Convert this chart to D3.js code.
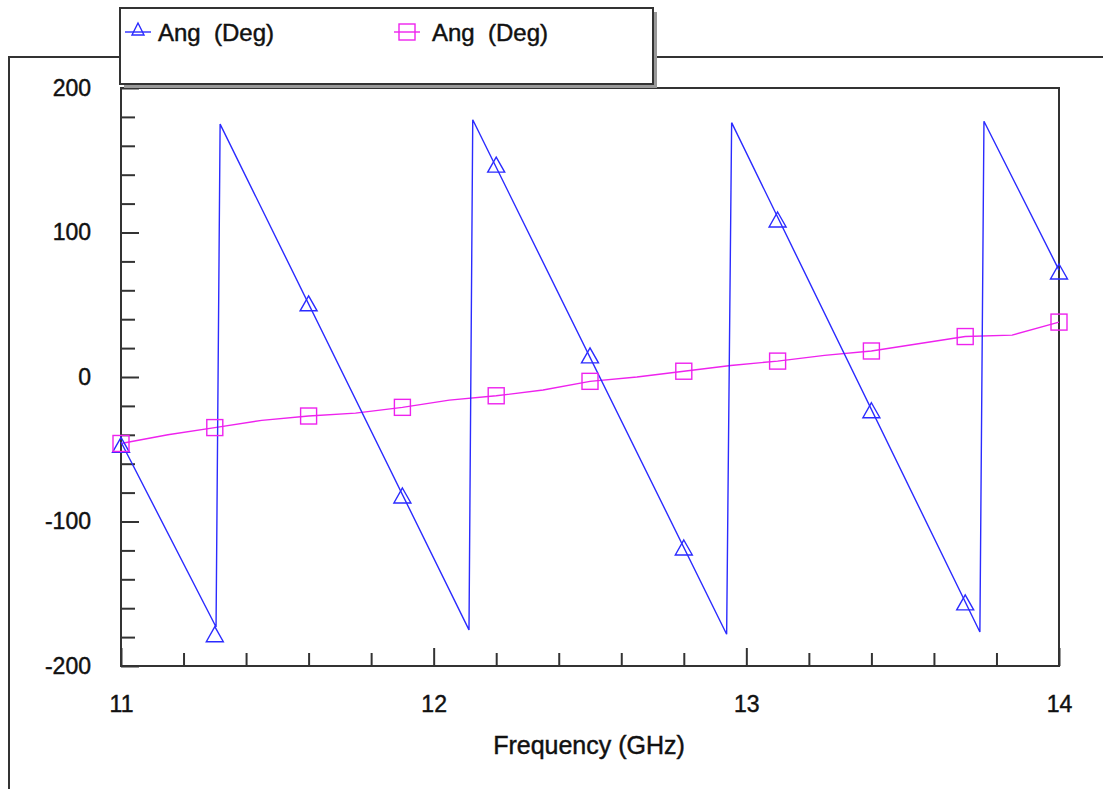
<!DOCTYPE html>
<html>
<head>
<meta charset="utf-8">
<script src="https://cdn.jsdelivr.net/npm/d3@7"></script>
<style>
  body { margin: 0; background: #fff; }
  svg text { font-family: "Liberation Sans", Arial, sans-serif; fill: #111; stroke: #111; stroke-width: 0.45px; }
</style>
</head>
<body>
<svg id="chart"></svg>
<script>
const width = 1103;
const height = 789;

// blue trace: sawtooth corners
const blueFreq = [11.0, 11.304, 11.317, 12.113, 12.125, 12.937, 12.953, 13.747, 13.760, 14.0];
const blueAng  = [-45, -173, 175, -175, 178, -178, 176, -176.5, 177, 74];

// magenta trace
const pinkFreq = [11.0, 11.15, 11.3, 11.45, 11.6, 11.75, 11.9, 12.05, 12.2, 12.35, 12.5, 12.65, 12.8, 12.95, 13.1, 13.25, 13.4, 13.55, 13.7, 13.85, 14.0];
const pinkAng  = [-46, -40, -35, -30, -27, -25, -21, -16, -13, -9, -3, 0, 4, 8, 11, 15, 18, 23, 28, 29, 38];

// marker positions
const markFreq    = [11.0, 11.3, 11.6, 11.9, 12.2, 12.5, 12.8, 13.1, 13.4, 13.7, 14.0];
const blueMarkAng = [-47, -178, 51, -82, 147, 15, -118, 109, -23, -156, 73];
const pinkMarkAng = [-46, -35, -27, -21, -13, -3, 4, 11, 18, 28, 38];

const xTickLabels = [11, 12, 13, 14];
const yTickLabels = [-200, -100, 0, 100, 200];
const legendLabels = ["Ang  (Deg)", "Ang  (Deg)"];

const blueColor = "#2b2bff";
const pinkColor = "#ee22ee";
const axisColor = "#333";

const plot = {left: 121, right: 1059, top: 88, bottom: 666};

var svg = d3.select("#chart")
    .attr("width", width)
    .attr("height", height);

var x = d3.scaleLinear().domain([11, 14]).range([plot.left, plot.right]);
var y = d3.scaleLinear().domain([-200, 200]).range([plot.bottom, plot.top]);

// outer frame
svg.append("path")
    .attr("d", `M9,${height} L9,57 L${width},57`)
    .attr("fill", "none")
    .attr("stroke", axisColor)
    .attr("stroke-width", 2);

// plot frame
svg.append("rect")
    .attr("x", plot.left)
    .attr("y", plot.top)
    .attr("width", plot.right - plot.left)
    .attr("height", plot.bottom - plot.top)
    .attr("fill", "#fff")
    .attr("stroke", axisColor)
    .attr("stroke-width", 2);

// y ticks (inside)
var yTicks = svg.append("g")
    .attr("transform", `translate(${plot.left},0)`)
    .call(d3.axisRight(y).tickValues(d3.range(-200, 201, 20)).tickSize(14).tickFormat(""));
yTicks.select(".domain").remove();
yTicks.selectAll(".tick line")
    .attr("stroke", axisColor)
    .attr("stroke-width", 2)
    .attr("x2", d => d % 100 === 0 ? 18 : 14);

// y labels (plain hyphen for the minus sign, as in the original)
var yLab = svg.append("g")
    .attr("transform", `translate(${plot.left},0)`)
    .call(d3.axisLeft(y).tickValues(yTickLabels).tickSize(0).tickPadding(30).tickFormat(d => String(d)));
yLab.select(".domain").remove();
yLab.selectAll("text").attr("font-size", 23).attr("fill", "#111");

// x ticks (inside)
var xTicks = svg.append("g")
    .attr("transform", `translate(0,${plot.bottom})`)
    .call(d3.axisTop(x).tickValues(d3.range(0, 16).map(i => 11 + i * 0.2)).tickSize(13).tickFormat(""));
xTicks.select(".domain").remove();
xTicks.selectAll(".tick line")
    .attr("stroke", axisColor)
    .attr("stroke-width", 2)
    .attr("y2", (d, i) => i % 5 === 0 ? -18 : -13);

// x labels
var xLab = svg.append("g")
    .attr("transform", `translate(0,${plot.bottom})`)
    .call(d3.axisBottom(x).tickValues(xTickLabels).tickSize(0).tickPadding(30).tickFormat(d3.format("d")));
xLab.select(".domain").remove();
xLab.selectAll("text").attr("font-size", 23).attr("fill", "#111");

svg.append("text")
    .attr("x", 589)
    .attr("y", 754)
    .attr("text-anchor", "middle")
    .attr("font-size", 25)
    .text("Frequency (GHz)");

// traces
var line = d3.line().x(d => x(d[0])).y(d => y(d[1]));
svg.append("clipPath").attr("id", "clip")
    .append("rect")
    .attr("x", plot.left - 10).attr("y", plot.top)
    .attr("width", plot.right - plot.left + 20).attr("height", plot.bottom - plot.top);

var traces = svg.append("g").attr("clip-path", "url(#clip)");

traces.append("path")
    .datum(pinkFreq.map((f, i) => [f, pinkAng[i]]))
    .attr("d", line)
    .attr("fill", "none")
    .attr("stroke", pinkColor)
    .attr("stroke-width", 1.4);

traces.append("path")
    .datum(blueFreq.map((f, i) => [f, blueAng[i]]))
    .attr("d", line)
    .attr("fill", "none")
    .attr("stroke", blueColor)
    .attr("stroke-width", 1.4);

function trianglePath(cx, cy, w, h) {
    return `M${cx},${cy - h / 2} L${cx + w / 2},${cy + h / 2} L${cx - w / 2},${cy + h / 2} Z`;
}

traces.selectAll(".tri")
    .data(markFreq.map((f, i) => [f, blueMarkAng[i]]))
    .enter().append("path")
    .attr("class", "tri")
    .attr("d", d => trianglePath(x(d[0]), y(d[1]), 17, 15))
    .attr("fill", "none")
    .attr("stroke", blueColor)
    .attr("stroke-width", 1.4);

traces.selectAll(".sq")
    .data(markFreq.map((f, i) => [f, pinkMarkAng[i]]))
    .enter().append("rect")
    .attr("class", "sq")
    .attr("x", d => x(d[0]) - 8)
    .attr("y", d => y(d[1]) - 8)
    .attr("width", 16)
    .attr("height", 16)
    .attr("fill", "none")
    .attr("stroke", pinkColor)
    .attr("stroke-width", 1.4);

// legend
var legend = svg.append("g");
legend.append("rect")
    .attr("x", 124).attr("y", 12)
    .attr("width", 533).attr("height", 76)
    .attr("fill", "#999");
legend.append("rect")
    .attr("x", 120).attr("y", 8)
    .attr("width", 533).attr("height", 76)
    .attr("fill", "#fff")
    .attr("stroke", axisColor)
    .attr("stroke-width", 2);

const legendItems = [
    {x: 125, color: blueColor, marker: "tri", label: legendLabels[0], tx: 158},
    {x: 394, color: pinkColor, marker: "sq", label: legendLabels[1], tx: 432}
];

legendItems.forEach(it => {
    legend.append("line")
        .attr("x1", it.x).attr("x2", it.x + 26)
        .attr("y1", 32).attr("y2", 32)
        .attr("stroke", it.color)
        .attr("stroke-width", 1.4);
    if (it.marker === "tri") {
        legend.append("path")
            .attr("d", trianglePath(it.x + 13, 29, 12, 12))
            .attr("fill", "none")
            .attr("stroke", it.color)
            .attr("stroke-width", 1.4);
    } else {
        legend.append("rect")
            .attr("x", it.x + 5).attr("y", 24)
            .attr("width", 16).attr("height", 16)
            .attr("fill", "none")
            .attr("stroke", it.color)
            .attr("stroke-width", 1.4);
    }
    legend.append("text")
        .attr("x", it.tx)
        .attr("y", 41)
        .attr("font-size", 24)
        .attr("xml:space", "preserve")
        .style("white-space", "pre")
        .text(it.label);
});
</script>
</body>
</html>
